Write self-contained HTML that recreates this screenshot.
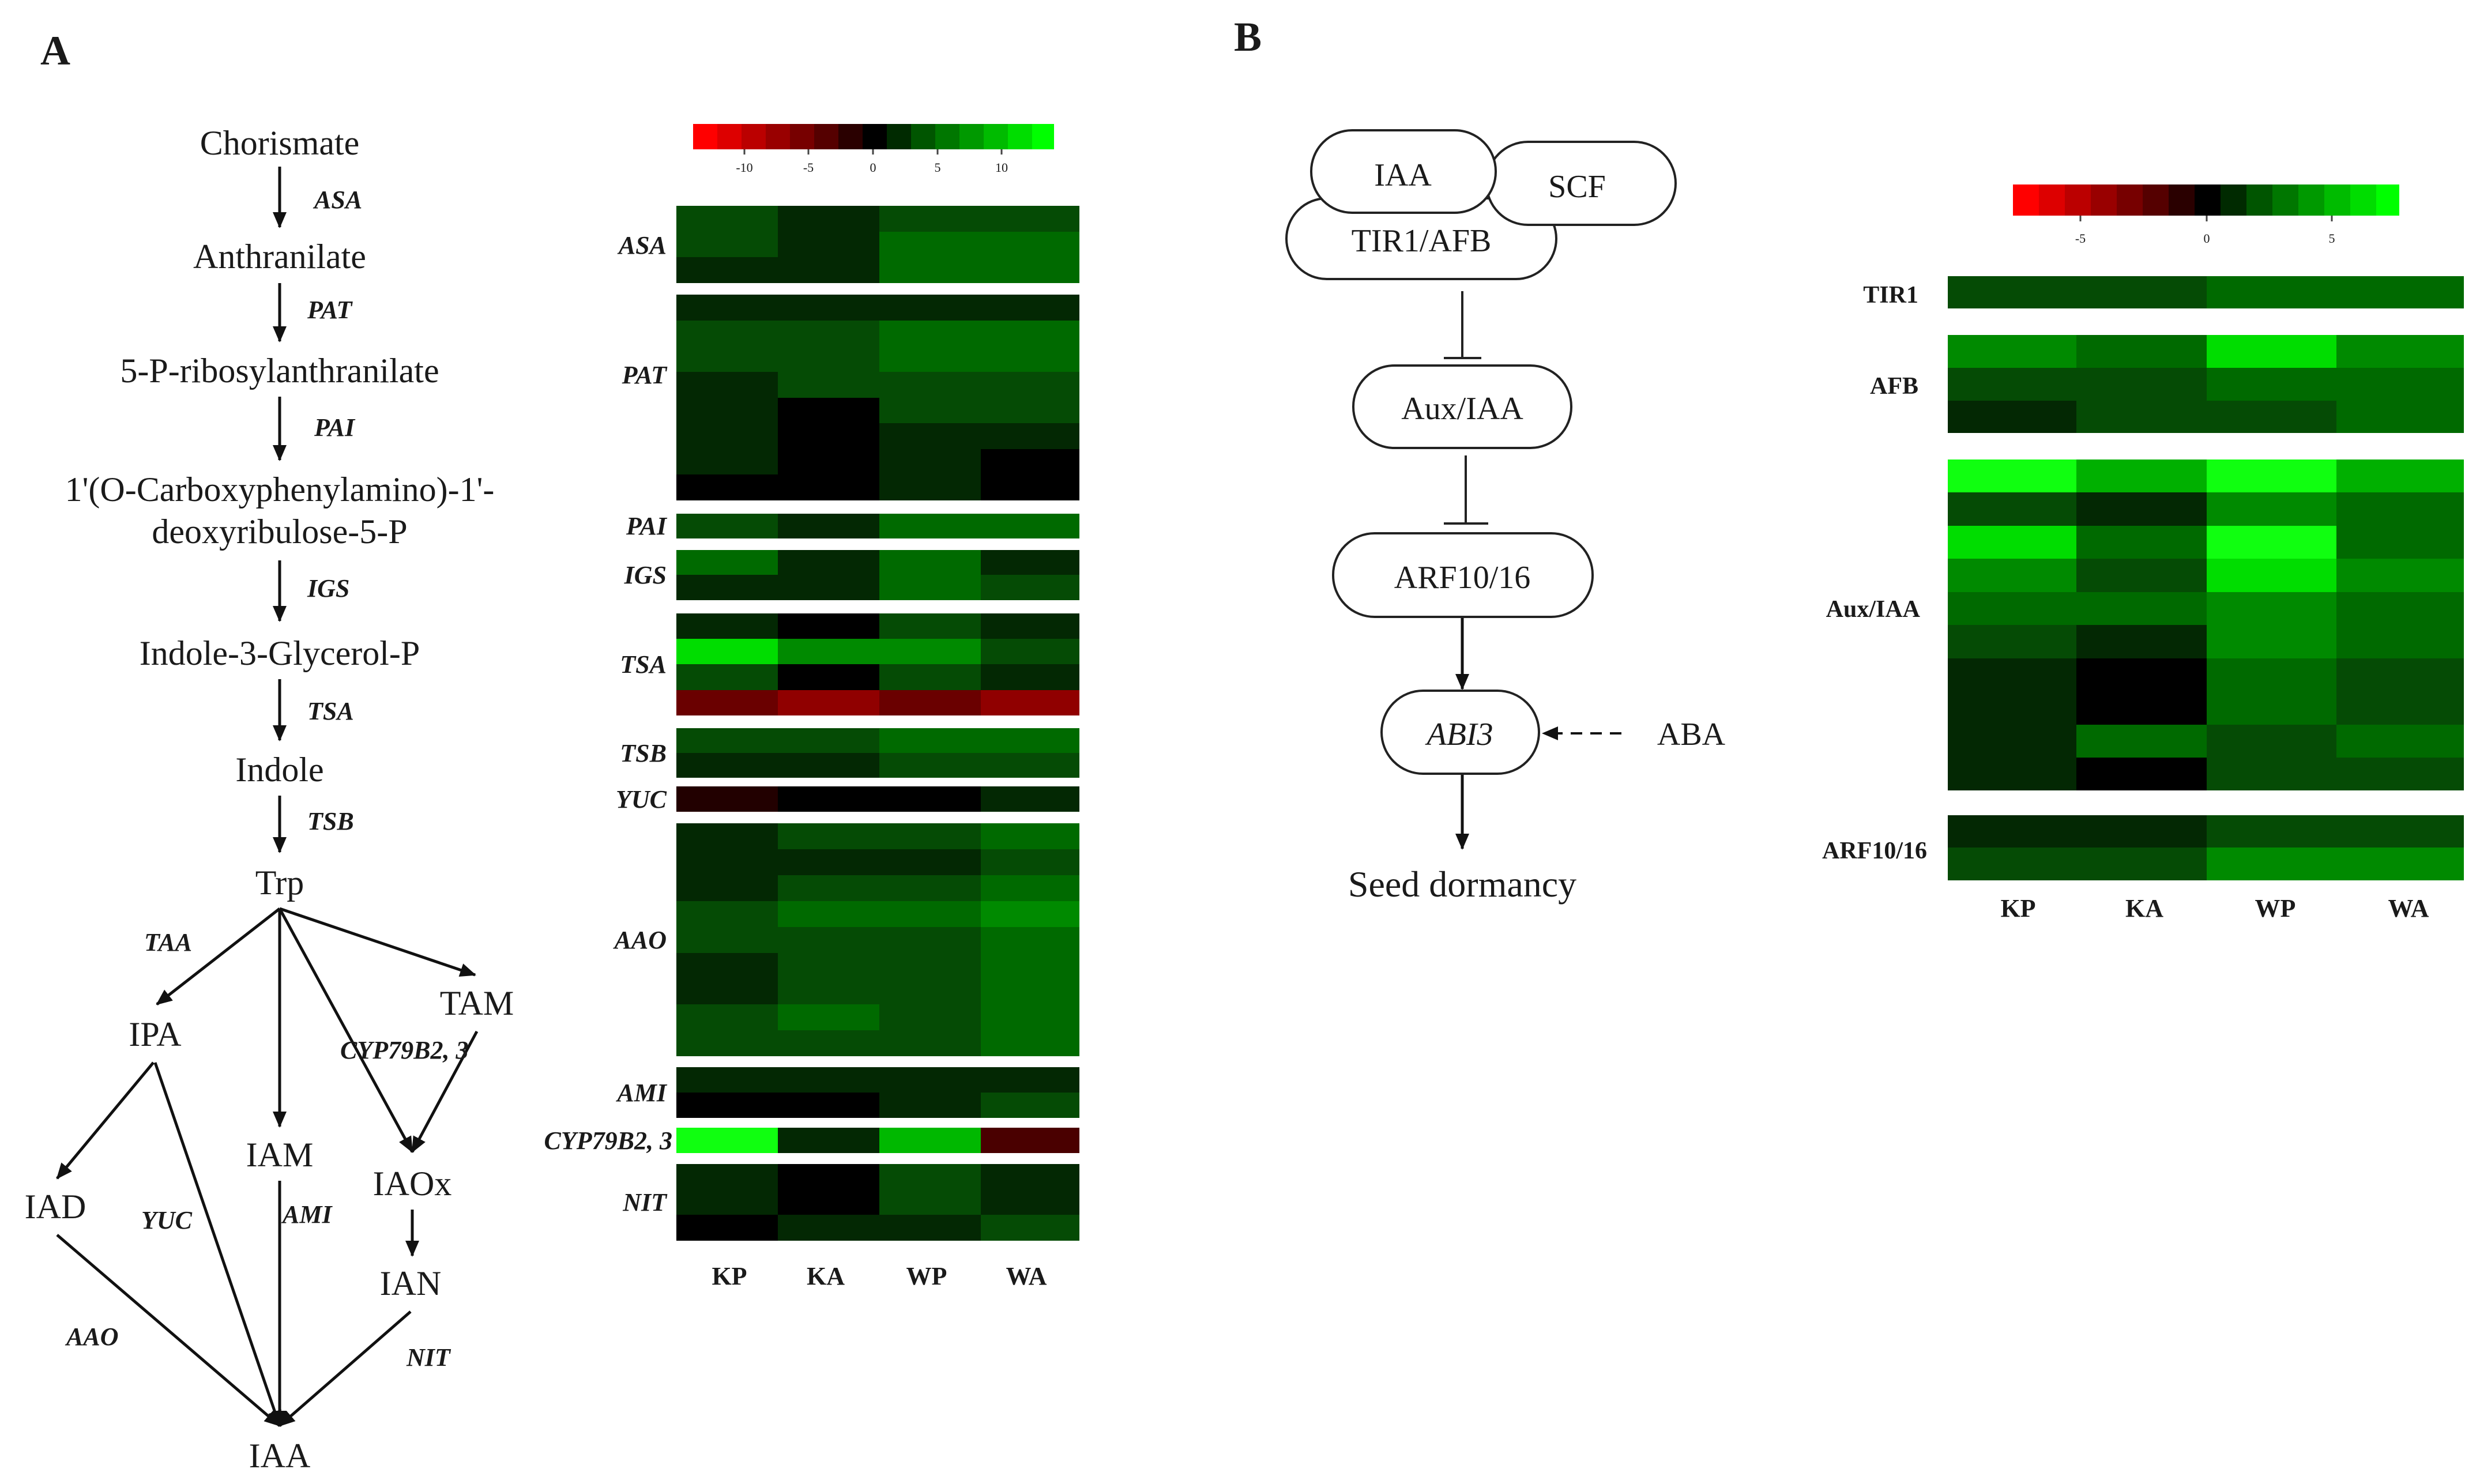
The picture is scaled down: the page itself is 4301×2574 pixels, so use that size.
<!DOCTYPE html>
<html><head><meta charset="utf-8"><style>
html,body{margin:0;padding:0;background:#fff;}
svg{display:block;}
.k{fill:#000}.d{fill:#032803}.g{fill:#054b05}.h{fill:#006a00}.m{fill:#008a00}.b{fill:#00b000}.e{fill:#00dd00}.f{fill:#10ff10}
.r1{fill:#6a0000}.r2{fill:#900000}.y{fill:#220000}.c{fill:#4a0000}.bb{fill:#00b800}
text{font-family:"Liberation Serif",serif;fill:#1a1a1a;}
.lb{font-weight:bold;font-style:italic;font-size:44px;}
.nd{font-size:60px;}
</style></head><body>
<svg width="4301" height="2574" viewBox="0 0 4301 2574" xmlns="http://www.w3.org/2000/svg">
<defs>
<marker id="ar" markerUnits="userSpaceOnUse" markerWidth="30" markerHeight="30" refX="26" refY="12" orient="auto"><path d="M0,0 L28,12 L0,24 z" fill="#111"/></marker>
</defs>
<!-- Panel letters -->
<text x="70" y="112" style="font-size:72px;font-weight:bold">A</text>
<text x="2140" y="88" style="font-size:72px;font-weight:bold">B</text>

<!-- Pathway A -->
<g text-anchor="middle" class="nd">
<text x="485" y="268">Chorismate</text>
<text x="485" y="465">Anthranilate</text>
<text x="485" y="663">5-P-ribosylanthranilate</text>
<text x="485" y="869">1'(O-Carboxyphenylamino)-1'-</text>
<text x="485" y="942">deoxyribulose-5-P</text>
<text x="485" y="1153">Indole-3-Glycerol-P</text>
<text x="485" y="1355">Indole</text>
<text x="485" y="1551">Trp</text>
<text x="269" y="1814">IPA</text>
<text x="827" y="1760">TAM</text>
<text x="485" y="2023">IAM</text>
<text x="96" y="2113">IAD</text>
<text x="715" y="2073">IAOx</text>
<text x="712" y="2246">IAN</text>
<text x="485" y="2545">IAA</text>
</g>
<g stroke="#111" stroke-width="5" fill="none" marker-end="url(#ar)">
<line x1="485" y1="289" x2="485" y2="394"/>
<line x1="485" y1="491" x2="485" y2="592"/>
<line x1="485" y1="688" x2="485" y2="798"/>
<line x1="485" y1="972" x2="485" y2="1077"/>
<line x1="485" y1="1178" x2="485" y2="1284"/>
<line x1="485" y1="1380" x2="485" y2="1478"/>
<line x1="485" y1="1576" x2="272" y2="1742"/>
<line x1="485" y1="1576" x2="485" y2="1954"/>
<line x1="485" y1="1576" x2="824" y2="1691"/>
<line x1="485" y1="1576" x2="715" y2="1998"/>
<line x1="827" y1="1789" x2="715" y2="1998"/>
<line x1="715" y1="2098" x2="715" y2="2178"/>
<line x1="266" y1="1843" x2="99" y2="2044"/>
<line x1="269" y1="1843" x2="485" y2="2473"/>
<line x1="485" y1="2048" x2="485" y2="2473"/>
<line x1="99" y1="2142" x2="485" y2="2473"/>
<line x1="712" y1="2275" x2="485" y2="2473"/>
</g>
<g class="lb">
<text x="545" y="361">ASA</text>
<text x="533" y="552">PAT</text>
<text x="545" y="756">PAI</text>
<text x="533" y="1035">IGS</text>
<text x="533" y="1248">TSA</text>
<text x="533" y="1439">TSB</text>
<text x="250" y="1649">TAA</text>
<text x="590" y="1836">CYP79B2, 3</text>
<text x="245" y="2131">YUC</text>
<text x="490" y="2121">AMI</text>
<text x="115" y="2333">AAO</text>
<text x="705" y="2369">NIT</text>
</g>

<!-- Heatmap A colorbar -->
<g>
<rect x="1202" y="215" width="42" height="44" fill="#ff0000"/><rect x="1244" y="215" width="42" height="44" fill="#dd0000"/><rect x="1286" y="215" width="42" height="44" fill="#bb0000"/><rect x="1328" y="215" width="42" height="44" fill="#990000"/><rect x="1370" y="215" width="42" height="44" fill="#770000"/><rect x="1412" y="215" width="42" height="44" fill="#550000"/><rect x="1454" y="215" width="42" height="44" fill="#2a0000"/><rect x="1496" y="215" width="42" height="44" fill="#000"/><rect x="1538" y="215" width="42" height="44" fill="#002a00"/><rect x="1580" y="215" width="42" height="44" fill="#005500"/><rect x="1622" y="215" width="42" height="44" fill="#007700"/><rect x="1664" y="215" width="42" height="44" fill="#009900"/><rect x="1706" y="215" width="42" height="44" fill="#00bb00"/><rect x="1748" y="215" width="42" height="44" fill="#00dd00"/><rect x="1790" y="215" width="38" height="44" fill="#00ff00"/>
<g stroke="#444" stroke-width="3"><line x1="1291" y1="259" x2="1291" y2="268"/><line x1="1402" y1="259" x2="1402" y2="268"/><line x1="1514" y1="259" x2="1514" y2="268"/><line x1="1626" y1="259" x2="1626" y2="268"/><line x1="1737" y1="259" x2="1737" y2="268"/></g>
<g text-anchor="middle" style="font-size:22px;font-family:'Liberation Sans',sans-serif" fill="#555"><text x="1291" y="298" fill="#555">-10</text><text x="1402" y="298" fill="#555">-5</text><text x="1514" y="298" fill="#555">0</text><text x="1626" y="298" fill="#555">5</text><text x="1737" y="298" fill="#555">10</text></g>
</g>

<!-- Heatmap A cells -->
<g shape-rendering="crispEdges">
<!-- ASA -->
<rect class="g" x="1173" y="357" width="176" height="46"/><rect class="d" x="1349" y="357" width="176" height="46"/><rect class="g" x="1525" y="357" width="176" height="46"/><rect class="g" x="1701" y="357" width="171" height="46"/>
<rect class="g" x="1173" y="402" width="176" height="45"/><rect class="d" x="1349" y="402" width="176" height="45"/><rect class="h" x="1525" y="402" width="176" height="45"/><rect class="h" x="1701" y="402" width="171" height="45"/>
<rect class="d" x="1173" y="446" width="176" height="45"/><rect class="d" x="1349" y="446" width="176" height="45"/><rect class="h" x="1525" y="446" width="176" height="45"/><rect class="h" x="1701" y="446" width="171" height="45"/>
<!-- PAT -->
<rect class="d" x="1173" y="511" width="699" height="46"/>
<rect class="g" x="1173" y="556" width="352" height="90"/><rect class="h" x="1525" y="556" width="347" height="90"/>
<rect class="d" x="1173" y="645" width="176" height="46"/><rect class="g" x="1349" y="645" width="523" height="46"/>
<rect class="d" x="1173" y="690" width="176" height="134"/><rect class="k" x="1349" y="690" width="176" height="178"/>
<rect class="g" x="1525" y="690" width="347" height="45"/>
<rect class="d" x="1525" y="734" width="347" height="45"/>
<rect class="d" x="1525" y="779" width="176" height="89"/><rect class="k" x="1701" y="779" width="171" height="89"/>
<rect class="k" x="1173" y="823" width="176" height="45"/>
<!-- PAI -->
<rect class="g" x="1173" y="891" width="176" height="43"/><rect class="d" x="1349" y="891" width="176" height="43"/><rect class="h" x="1525" y="891" width="347" height="43"/>
<!-- IGS -->
<rect class="h" x="1173" y="954" width="176" height="44"/><rect class="d" x="1349" y="954" width="176" height="87"/><rect class="h" x="1525" y="954" width="176" height="87"/><rect class="d" x="1701" y="954" width="171" height="44"/>
<rect class="d" x="1173" y="997" width="176" height="44"/><rect class="g" x="1701" y="997" width="171" height="44"/>
<!-- TSA -->
<rect class="d" x="1173" y="1064" width="176" height="45"/><rect class="k" x="1349" y="1064" width="176" height="45"/><rect class="g" x="1525" y="1064" width="176" height="45"/><rect class="d" x="1701" y="1064" width="171" height="45"/>
<rect class="e" x="1173" y="1108" width="176" height="45"/><rect class="m" x="1349" y="1108" width="352" height="45"/><rect class="g" x="1701" y="1108" width="171" height="45"/>
<rect class="g" x="1173" y="1152" width="176" height="45"/><rect class="k" x="1349" y="1152" width="176" height="45"/><rect class="g" x="1525" y="1152" width="176" height="45"/><rect class="d" x="1701" y="1152" width="171" height="45"/>
<rect class="r1" x="1173" y="1197" width="176" height="44"/><rect class="r2" x="1349" y="1197" width="176" height="44"/><rect class="r1" x="1525" y="1197" width="176" height="44"/><rect class="r2" x="1701" y="1197" width="171" height="44"/>
<!-- TSB -->
<rect class="g" x="1173" y="1263" width="352" height="44"/><rect class="h" x="1525" y="1263" width="347" height="44"/>
<rect class="d" x="1173" y="1306" width="352" height="43"/><rect class="g" x="1525" y="1306" width="347" height="43"/>
<!-- YUC -->
<rect class="y" x="1173" y="1364" width="176" height="44"/><rect class="k" x="1349" y="1364" width="352" height="44"/><rect class="d" x="1701" y="1364" width="171" height="44"/>
<!-- AAO -->
<rect class="d" x="1173" y="1428" width="176" height="136"/>
<rect class="g" x="1349" y="1428" width="352" height="46"/><rect class="h" x="1701" y="1428" width="171" height="46"/>
<rect class="d" x="1349" y="1473" width="352" height="46"/><rect class="g" x="1701" y="1473" width="171" height="46"/>
<rect class="g" x="1349" y="1518" width="352" height="46"/><rect class="h" x="1701" y="1518" width="171" height="46"/>
<rect class="g" x="1173" y="1563" width="176" height="46"/><rect class="h" x="1349" y="1563" width="352" height="46"/><rect class="m" x="1701" y="1563" width="171" height="46"/>
<rect class="g" x="1173" y="1608" width="176" height="46"/>
<rect class="d" x="1173" y="1653" width="176" height="90"/>
<rect class="g" x="1349" y="1608" width="352" height="135"/><rect class="h" x="1701" y="1608" width="171" height="224"/>
<rect class="g" x="1173" y="1742" width="176" height="90"/><rect class="h" x="1349" y="1742" width="176" height="46"/><rect class="g" x="1525" y="1742" width="176" height="90"/>
<rect class="g" x="1349" y="1787" width="176" height="45"/>
<!-- AMI -->
<rect class="d" x="1173" y="1851" width="699" height="45"/>
<rect class="k" x="1173" y="1895" width="352" height="44"/><rect class="d" x="1525" y="1895" width="176" height="44"/><rect class="g" x="1701" y="1895" width="171" height="44"/>
<!-- CYP -->
<rect class="f" x="1173" y="1956" width="176" height="44"/><rect class="d" x="1349" y="1956" width="176" height="44"/><rect class="bb" x="1525" y="1956" width="176" height="44"/><rect class="c" x="1701" y="1956" width="171" height="44"/>
<!-- NIT -->
<rect class="d" x="1173" y="2019" width="176" height="89"/><rect class="k" x="1349" y="2019" width="176" height="89"/><rect class="g" x="1525" y="2019" width="176" height="89"/><rect class="d" x="1701" y="2019" width="171" height="89"/>
<rect class="k" x="1173" y="2107" width="176" height="45"/><rect class="d" x="1349" y="2107" width="352" height="45"/><rect class="g" x="1701" y="2107" width="171" height="45"/>
</g>
<g class="lb" text-anchor="end">
<text x="1156" y="440">ASA</text>
<text x="1156" y="665">PAT</text>
<text x="1156" y="927">PAI</text>
<text x="1156" y="1012">IGS</text>
<text x="1156" y="1167">TSA</text>
<text x="1156" y="1321">TSB</text>
<text x="1156" y="1401">YUC</text>
<text x="1156" y="1645">AAO</text>
<text x="1156" y="1910">AMI</text>
<text x="1166" y="1993">CYP79B2, 3</text>
<text x="1156" y="2100">NIT</text>
</g>
<g text-anchor="middle" style="font-size:44px;font-weight:bold">
<text x="1265" y="2228">KP</text><text x="1432" y="2228">KA</text><text x="1607" y="2228">WP</text><text x="1780" y="2228">WA</text>
</g>

<!-- Panel B diagram -->
<g stroke="#222" stroke-width="4" fill="#fff">
<rect x="2231" y="344" width="468" height="140" rx="70"/>
<rect x="2578" y="246" width="328" height="144" rx="72"/>
<rect x="2274" y="226" width="320" height="143" rx="71"/>
<rect x="2347" y="634" width="378" height="143" rx="71"/>
<rect x="2312" y="925" width="450" height="145" rx="72"/>
<rect x="2396" y="1198" width="273" height="144" rx="72"/>
</g>
<g stroke="#222" stroke-width="4" fill="none">
<line x1="2536" y1="505" x2="2536" y2="621"/><line x1="2504" y1="621" x2="2569" y2="621"/>
<line x1="2542" y1="790" x2="2542" y2="908"/><line x1="2504" y1="908" x2="2581" y2="908"/>
</g>
<g stroke="#111" stroke-width="5" fill="none" marker-end="url(#ar)">
<line x1="2536" y1="1072" x2="2536" y2="1195"/>
<line x1="2536" y1="1344" x2="2536" y2="1472"/>
</g>
<line x1="2812" y1="1272" x2="2676" y2="1272" stroke="#111" stroke-width="4" stroke-dasharray="20,14" marker-end="url(#ar)"/>
<g text-anchor="middle" style="font-size:56px">
<text x="2433" y="322">IAA</text>
<text x="2735" y="342">SCF</text>
<text x="2465" y="436">TIR1/AFB</text>
<text x="2536" y="727">Aux/IAA</text>
<text x="2536" y="1020">ARF10/16</text>
<text x="2532" y="1292" style="font-style:italic">ABI3</text>
<text x="2933" y="1292">ABA</text>
<text x="2536" y="1555" style="font-size:64px">Seed dormancy</text>
</g>

<!-- Heatmap B colorbar -->
<g>
<rect x="3491" y="320" width="45" height="54" fill="#ff0000"/><rect x="3536" y="320" width="45" height="54" fill="#dd0000"/><rect x="3581" y="320" width="45" height="54" fill="#bb0000"/><rect x="3626" y="320" width="45" height="54" fill="#990000"/><rect x="3671" y="320" width="45" height="54" fill="#770000"/><rect x="3716" y="320" width="45" height="54" fill="#550000"/><rect x="3761" y="320" width="45" height="54" fill="#2a0000"/><rect x="3806" y="320" width="45" height="54" fill="#000"/><rect x="3851" y="320" width="45" height="54" fill="#002a00"/><rect x="3896" y="320" width="45" height="54" fill="#005500"/><rect x="3941" y="320" width="45" height="54" fill="#007700"/><rect x="3986" y="320" width="45" height="54" fill="#009900"/><rect x="4031" y="320" width="45" height="54" fill="#00bb00"/><rect x="4076" y="320" width="45" height="54" fill="#00dd00"/><rect x="4121" y="320" width="40" height="54" fill="#00ff00"/>
<g stroke="#444" stroke-width="3"><line x1="3608" y1="374" x2="3608" y2="384"/><line x1="3827" y1="374" x2="3827" y2="384"/><line x1="4044" y1="374" x2="4044" y2="384"/></g>
<g text-anchor="middle" style="font-size:22px;font-family:'Liberation Sans',sans-serif"><text x="3608" y="421" fill="#555">-5</text><text x="3827" y="421" fill="#555">0</text><text x="4044" y="421" fill="#555">5</text></g>
</g>

<!-- Heatmap B cells -->
<g shape-rendering="crispEdges">
<rect class="g" x="3378" y="479" width="449" height="56"/><rect class="h" x="3827" y="479" width="446" height="56"/>
<!-- AFB -->
<rect class="m" x="3378" y="581" width="223" height="58"/><rect class="h" x="3601" y="581" width="226" height="58"/><rect class="e" x="3827" y="581" width="225" height="58"/><rect class="m" x="4052" y="581" width="221" height="58"/>
<rect class="g" x="3378" y="638" width="449" height="58"/><rect class="h" x="3827" y="638" width="446" height="58"/>
<rect class="d" x="3378" y="695" width="223" height="56"/><rect class="g" x="3601" y="695" width="451" height="56"/><rect class="h" x="4052" y="695" width="221" height="56"/>
<!-- Aux/IAA -->
<rect class="f" x="3378" y="797" width="223" height="58"/><rect class="b" x="3601" y="797" width="226" height="58"/><rect class="f" x="3827" y="797" width="225" height="58"/><rect class="b" x="4052" y="797" width="221" height="58"/>
<rect class="g" x="3378" y="854" width="223" height="58"/><rect class="d" x="3601" y="854" width="226" height="58"/><rect class="m" x="3827" y="854" width="225" height="58"/><rect class="h" x="4052" y="854" width="221" height="58"/>
<rect class="e" x="3378" y="912" width="223" height="58"/><rect class="h" x="3601" y="912" width="226" height="58"/><rect class="f" x="3827" y="912" width="225" height="58"/><rect class="h" x="4052" y="912" width="221" height="58"/>
<rect class="m" x="3378" y="969" width="223" height="58"/><rect class="g" x="3601" y="969" width="226" height="58"/><rect class="e" x="3827" y="969" width="225" height="58"/><rect class="m" x="4052" y="969" width="221" height="58"/>
<rect class="h" x="3378" y="1027" width="449" height="58"/><rect class="m" x="3827" y="1027" width="225" height="58"/><rect class="h" x="4052" y="1027" width="221" height="58"/>
<rect class="g" x="3378" y="1084" width="223" height="58"/><rect class="d" x="3601" y="1084" width="226" height="58"/><rect class="m" x="3827" y="1084" width="225" height="58"/><rect class="h" x="4052" y="1084" width="221" height="58"/>
<rect class="d" x="3378" y="1142" width="223" height="229"/><rect class="k" x="3601" y="1142" width="226" height="116"/><rect class="h" x="3827" y="1142" width="225" height="116"/><rect class="g" x="4052" y="1142" width="221" height="116"/>
<rect class="h" x="3601" y="1257" width="226" height="58"/><rect class="g" x="3827" y="1257" width="225" height="114"/><rect class="h" x="4052" y="1257" width="221" height="58"/>
<rect class="k" x="3601" y="1314" width="226" height="57"/><rect class="g" x="4052" y="1314" width="221" height="57"/>
<!-- ARF -->
<rect class="d" x="3378" y="1414" width="449" height="57"/><rect class="g" x="3827" y="1414" width="446" height="57"/>
<rect class="g" x="3378" y="1470" width="449" height="57"/><rect class="m" x="3827" y="1470" width="446" height="57"/>
</g>
<g text-anchor="end" style="font-size:42px;font-weight:bold">
<text x="3327" y="525">TIR1</text>
<text x="3327" y="683">AFB</text>
<text x="3330" y="1070">Aux/IAA</text>
<text x="3342" y="1489">ARF10/16</text>
</g>
<g text-anchor="middle" style="font-size:44px;font-weight:bold">
<text x="3500" y="1590">KP</text><text x="3719" y="1590">KA</text><text x="3946" y="1590">WP</text><text x="4177" y="1590">WA</text>
</g>
</svg>
</body></html>
